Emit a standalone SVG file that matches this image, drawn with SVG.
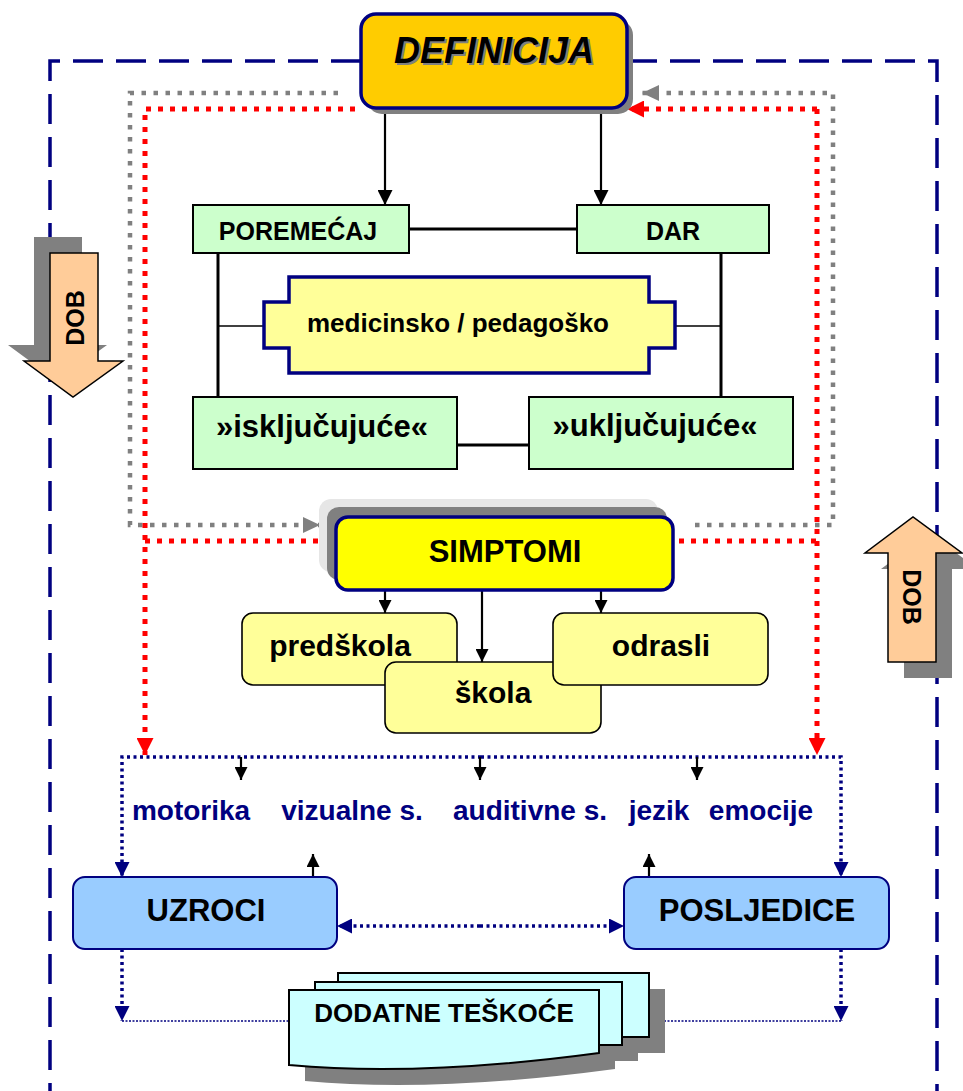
<svg xmlns="http://www.w3.org/2000/svg" width="963" height="1091" viewBox="0 0 963 1091">
<style>
text{font-family:"Liberation Sans",Arial,sans-serif;font-weight:bold;text-anchor:middle;fill:#000}
.nv{fill:#000080}
.frame{fill:none;stroke:#000080;stroke-width:3.5;stroke-dasharray:30 13}
.gray{fill:none;stroke:#808080;stroke-width:4.5;stroke-dasharray:4.5 7.5}
.red{fill:none;stroke:#FF0000;stroke-width:5;stroke-dasharray:5 7}
.blk{fill:none;stroke:#000;stroke-width:2.2}
.thick{fill:none;stroke:#000;stroke-width:3}
.thin{fill:none;stroke:#000;stroke-width:1.5}
.ndot{fill:none;stroke:#000080;stroke-width:3.5;stroke-dasharray:3 3.5}
.ndot2{fill:none;stroke:#000080;stroke-width:1.6;stroke-dasharray:2 1.5}
.green{fill:#CCFFCC;stroke:#000;stroke-width:2}
.lyel{fill:#FFFF99;stroke:#000;stroke-width:1.6}
.blue{fill:#99CCFF;stroke:#000080;stroke-width:2}
.doc{fill:#CCFFFF;stroke:#000;stroke-width:2}
.shadow{fill:#808080}
.dob{fill:#FFCC99;stroke:#000;stroke-width:1.5}
</style>
<defs>
<marker id="mb" markerUnits="userSpaceOnUse" markerWidth="15" markerHeight="15" viewBox="0 0 15 15" refX="15" refY="7.5" orient="auto"><path d="M0,0 L15,7.5 L0,15 z" fill="#000"/></marker>
<marker id="mbs" markerUnits="userSpaceOnUse" markerWidth="13" markerHeight="13" viewBox="0 0 13 13" refX="13" refY="6.5" orient="auto"><path d="M0,0 L13,6.5 L0,13 z" fill="#000"/></marker>
<marker id="mr" markerUnits="userSpaceOnUse" markerWidth="17" markerHeight="17" viewBox="0 0 17 17" refX="17" refY="8.5" orient="auto"><path d="M0,0 L17,8.5 L0,17 z" fill="#FF0000"/></marker>
<marker id="mg" markerUnits="userSpaceOnUse" markerWidth="17" markerHeight="16" viewBox="0 0 17 16" refX="17" refY="8" orient="auto"><path d="M0,0 L17,8 L0,16 z" fill="#808080"/></marker>
<marker id="mn" markerUnits="userSpaceOnUse" markerWidth="15" markerHeight="15" viewBox="0 0 15 15" refX="15" refY="7.5" orient="auto"><path d="M0,0 L15,7.5 L0,15 z" fill="#000080"/></marker>
</defs>

<g id="frame">
<path class="frame" d="M361,61 H50 V1091"/>
<path class="frame" d="M627,61 H937 V1091"/>
</g>

<g id="connectors">
<path class="gray" d="M338,93 H130 V525 H320" marker-end="url(#mg)"/>
<path class="gray" d="M695,525 H833 V93 H642" marker-end="url(#mg)"/>
<path class="red" d="M355,109 H145 V755" marker-end="url(#mr)"/>
<path class="red" d="M145,541 H337" marker-end="url(#mr)"/>
<path class="red" d="M817,109 H627" marker-end="url(#mr)"/>
<path class="red" d="M817,109 V755" marker-end="url(#mr)"/>
<path class="red" d="M679,541 H817"/>
<path class="blk" d="M385,108 V205" marker-end="url(#mb)"/>
<path class="blk" d="M601,108 V205" marker-end="url(#mb)"/>
<path class="thick" d="M409,229 H577"/>
<path class="thick" d="M218,253 V397"/>
<path class="thick" d="M721,253 V397"/>
<path class="thin" d="M218,326 H264"/>
<path class="thin" d="M675,326 H721"/>
<path class="thick" d="M457,445 H529"/>
<path class="blk" d="M385,590 V613" marker-end="url(#mbs)"/>
<path class="blk" d="M482,590 V662" marker-end="url(#mbs)"/>
<path class="blk" d="M601,590 V613" marker-end="url(#mbs)"/>
<path class="ndot" d="M481,757 H122 V877" marker-end="url(#mn)"/>
<path class="ndot" d="M481,757 H841 V877" marker-end="url(#mn)"/>
<path class="blk" d="M241,757 V780" marker-end="url(#mbs)"/>
<path class="blk" d="M480,757 V780" marker-end="url(#mbs)"/>
<path class="blk" d="M697,757 V780" marker-end="url(#mbs)"/>
<path class="blk" d="M313,877 V854" marker-end="url(#mbs)"/>
<path class="blk" d="M649,877 V854" marker-end="url(#mbs)"/>
<path class="ndot" d="M480,926 H337" marker-end="url(#mn)"/>
<path class="ndot" d="M480,926 H624" marker-end="url(#mn)"/>
<path class="ndot" d="M122,949 V1021" marker-end="url(#mn)"/>
<path class="ndot" d="M841,949 V1021" marker-end="url(#mn)"/>
<path class="ndot2" d="M122,1021 H290"/>
<path class="ndot2" d="M650,1021 H841"/>
</g>

<g id="dob-left">
<path class="shadow" d="M34,237 H82 V345 H107 L57,381 L8,345 H34 Z"/>
<path class="dob" d="M50,253 H98 V361 H123 L73,397 L24,361 H50 Z"/>
<text transform="translate(75,318) rotate(-90)" x="0" y="9" font-size="25">DOB</text>
</g>

<g id="dob-right">
<path class="shadow" d="M904,678 H952 V569 H978 L929,533 L881,569 H904 Z"/>
<path class="dob" d="M888,662 H936 V553 H962 L913,517 L865,553 H888 Z"/>
<text transform="translate(912,597) rotate(90)" x="0" y="9" font-size="25">DOB</text>
</g>

<g id="definicija">
<rect x="367" y="20" width="266" height="94" rx="15" fill="#808080"/>
<rect x="361" y="14" width="266" height="94" rx="15" fill="#FFCC00" stroke="#000080" stroke-width="3.5"/>
<text x="496" y="65" font-size="36" font-style="italic" fill="#808080" style="fill:#808080">DEFINICIJA</text>
<text x="494" y="63" font-size="36" font-style="italic">DEFINICIJA</text>
</g>

<g id="poremecaj">
<rect class="green" x="193" y="205" width="216" height="48"/>
<text x="298" y="240" font-size="25">POREMEĆAJ</text>
</g>

<g id="dar">
<rect class="green" x="577" y="205" width="192" height="48"/>
<text x="673" y="240" font-size="25">DAR</text>
</g>

<g id="medicinsko">
<path d="M289,277 H649 V302 H675 V348 H649 V373 H289 V348 H264 V302 H289 Z" fill="#FFFF99" stroke="#000080" stroke-width="3.5"/>
<text x="458" y="332" font-size="26">medicinsko / pedagoško</text>
</g>

<g id="iskljucujuce">
<rect class="green" x="193" y="397" width="264" height="72"/>
<text x="322" y="437" font-size="31">»isključujuće«</text>
</g>

<g id="ukljucujuce">
<rect class="green" x="529" y="397" width="264" height="72"/>
<text x="655" y="436" font-size="31">»uključujuće«</text>
</g>

<g id="simptomi">
<rect x="319" y="499" width="339" height="73" rx="12" fill="#E6E6E6"/>
<rect x="327" y="507" width="340" height="73" rx="12" fill="#808080"/>
<rect x="336" y="517" width="337" height="73" rx="12" fill="#FFFF00" stroke="#000080" stroke-width="3.5"/>
<text x="505" y="562" font-size="31">SIMPTOMI</text>
</g>

<g id="predskola">
<rect class="lyel" x="242" y="613" width="215" height="72" rx="11"/>
<text x="340" y="656" font-size="30">predškola</text>
</g>

<g id="skola">
<rect class="lyel" x="385" y="662" width="216" height="71" rx="11"/>
<text x="493" y="703" font-size="30">škola</text>
</g>

<g id="odrasli">
<rect class="lyel" x="553" y="613" width="215" height="72" rx="11"/>
<text x="661" y="656" font-size="30">odrasli</text>
</g>

<g id="labels">
<text class="nv" x="191" y="820" font-size="28">motorika</text>
<text class="nv" x="352" y="820" font-size="28">vizualne s.</text>
<text class="nv" x="530" y="820" font-size="28">auditivne s.</text>
<text class="nv" x="659" y="820" font-size="28">jezik</text>
<text class="nv" x="761" y="820" font-size="28">emocije</text>
</g>

<g id="uzroci">
<rect class="blue" x="73" y="877" width="264" height="72" rx="12"/>
<text x="206" y="921" font-size="31">UZROCI</text>
</g>

<g id="posljedice">
<rect class="blue" x="624" y="877" width="265" height="72" rx="12"/>
<text x="757" y="921" font-size="31">POSLJEDICE</text>
</g>

<g id="dodatne">
<path class="shadow" d="M354,989 H665 V1053 H354 Z"/>
<path class="shadow" d="M331,998 H638 V1061 H331 Z"/>
<path class="shadow" d="M305,1006 H615 V1069 Q436,1093 305,1081 Z"/>
<path class="doc" d="M338,973 H649 V1037 H338 Z"/>
<path class="doc" d="M315,982 H622 V1045 H315 Z"/>
<path class="doc" d="M289,990 H599 V1053 Q420,1077 289,1065 Z"/>
<text x="444" y="1022" font-size="26">DODATNE TEŠKOĆE</text>
</g>
</svg>
